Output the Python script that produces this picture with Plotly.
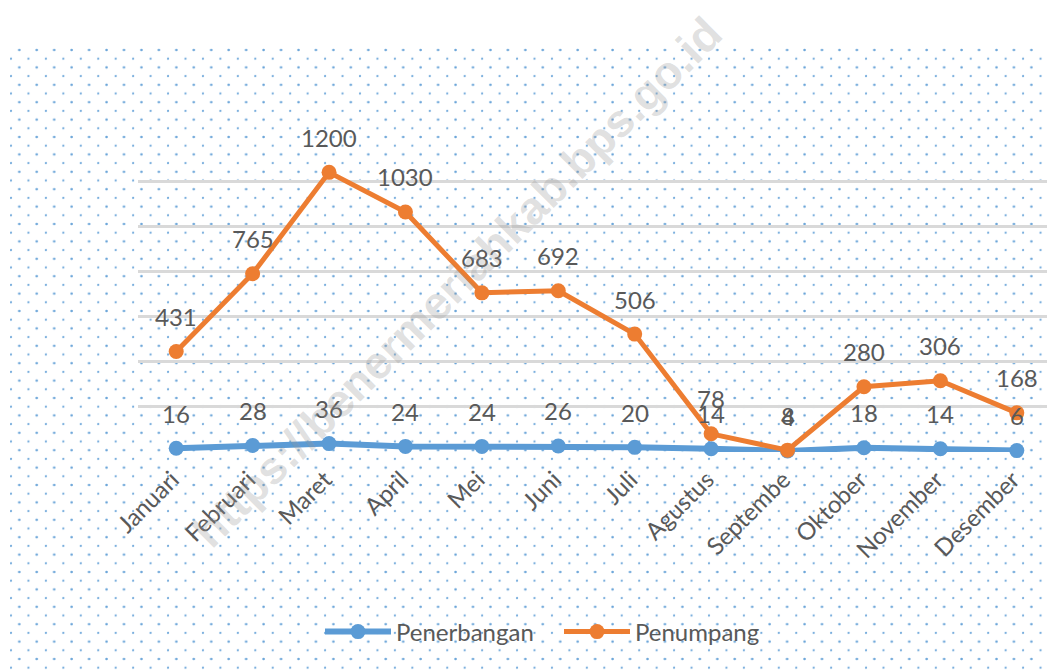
import base64
import plotly.graph_objects as go

months = ["Januari", "Februari", "Maret", "April", "Mei", "Juni", "Juli",
          "Agustus", "Septembe", "Oktober", "November", "Desember"]
penerbangan = [16, 28, 36, 24, 24, 26, 20, 14, 4, 18, 14, 6]
penumpang = [431, 765, 1200, 1030, 683, 692, 506, 78, 8, 280, 306, 168]

BLUE = "#5B9BD5"
ORANGE = "#ED7D31"
TXT = "#595959"
FONT = "Lato"

OFF = 8  # page body margin
W, H = 1055 - OFF, 670 - OFF
L, R, T, B = 138 - OFF, 0, 136 - OFF, 218
YMAX = 1356
pw, ph = W - L - R, H - T - B


def px(xp):  # page x -> paper x
    return (xp - OFF - L) / pw


def py(yp):  # page y -> paper y
    return (H - B - (yp - OFF)) / ph


# dotted background (Excel dot pattern) as an SVG tile image
bx0, by0 = 10, 45
bw, bh = 1055 - bx0, 670 - by0
svg = f'''<svg xmlns="http://www.w3.org/2000/svg" width="{bw}" height="{bh}" viewBox="0 0 {bw} {bh}" preserveAspectRatio="none">
<defs><pattern id="p" x="0" y="5" width="17.45" height="17.4" patternUnits="userSpaceOnUse">
<circle cx="9.3" cy="0" r="1.3" fill="#5B9BD5" fill-opacity="0.9"/>
<circle cx="9.3" cy="17.4" r="1.3" fill="#5B9BD5" fill-opacity="0.9"/>
<circle cx="1.0" cy="8.7" r="1.1" fill="#5B9BD5" fill-opacity="0.85"/>
<circle cx="18.45" cy="8.7" r="1.1" fill="#5B9BD5" fill-opacity="0.85"/>
</pattern></defs>
<rect x="0" y="0" width="{bw}" height="{bh}" fill="url(#p)"/>
</svg>'''
src = "data:image/svg+xml;base64," + base64.b64encode(svg.encode()).decode()

fig = go.Figure()
fig.add_trace(go.Scatter(
    x=months, y=penerbangan, name="Penerbangan", mode="lines+markers",
    line=dict(color=BLUE, width=6), marker=dict(size=15, color=BLUE),
    cliponaxis=False))
fig.add_trace(go.Scatter(
    x=months, y=penumpang, name="Penumpang", mode="lines+markers",
    line=dict(color=ORANGE, width=5), marker=dict(size=15, color=ORANGE),
    cliponaxis=False))

annotations = []
for series in (penerbangan, penumpang):
    for m, v in zip(months, series):
        annotations.append(dict(
            x=m, y=v, xref="x", yref="y", text=str(v), showarrow=False,
            yshift=35, font=dict(family=FONT, size=24, color=TXT)))

# watermark
annotations.append(dict(
    x=px(457), y=py(282), xref="paper", yref="paper",
    text="<b>https://benermeriahkab.bps.go.id</b>", showarrow=False, textangle=-45,
    font=dict(family="Liberation Sans", size=46, color="rgba(150,150,150,0.3)"),
    xanchor="center", yanchor="middle"))

fig.update_layout(
    width=W, height=H,
    margin=dict(l=L, r=R, t=T, b=B, pad=0),
    paper_bgcolor="white", plot_bgcolor="rgba(0,0,0,0)",
    font=dict(family=FONT, color=TXT, size=24),
    showlegend=True,
    legend=dict(orientation="h", x=px(320), xanchor="left",
                y=py(632), yanchor="middle",
                font=dict(family=FONT, size=24, color=TXT),
                bgcolor="rgba(0,0,0,0)", itemwidth=66,
                entrywidth=158, entrywidthmode="pixels"),
    annotations=annotations,
    images=[dict(source=src, xref="paper", yref="paper",
                 x=px(bx0), y=py(by0),
                 sizex=bw / pw, sizey=bh / ph, sizing="stretch",
                 xanchor="left", yanchor="top", layer="below")],
)
fig.update_xaxes(tickangle=-45, showgrid=False, showline=False, zeroline=False,
                 ticks="", tickfont=dict(family=FONT, size=24, color=TXT),
                 ticklabelstandoff=8, ticklabelshift=-4,
                 range=[-0.5, 11.5])
fig.update_yaxes(range=[0, YMAX], dtick=YMAX / 7, tick0=0, showgrid=True,
                 gridcolor="#D9D9D9", gridwidth=2.5, showticklabels=False,
                 zeroline=False, showline=False, ticks="")

fig.write_html("out.html")
